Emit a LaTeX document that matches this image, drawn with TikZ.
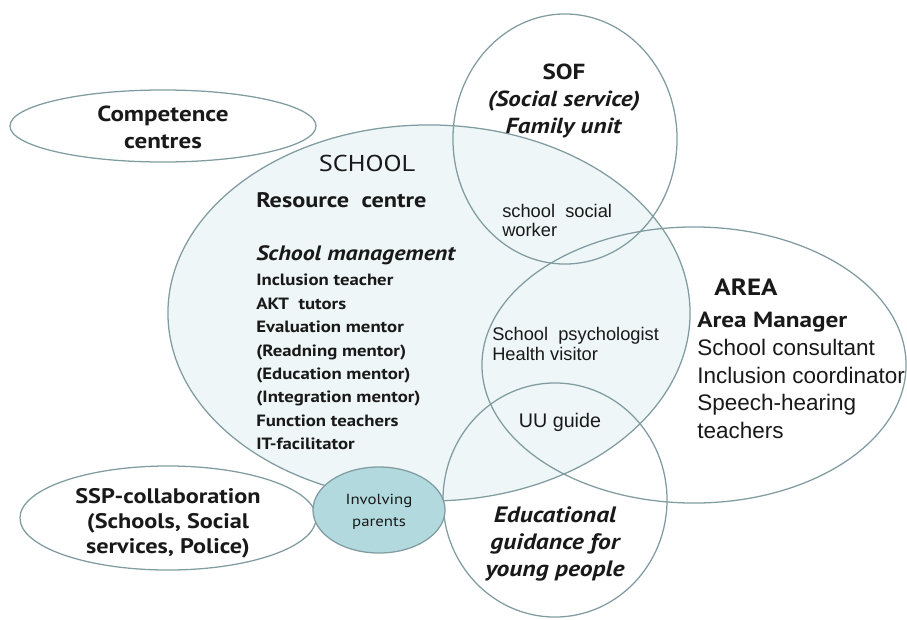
\documentclass[tikz,border=0pt]{standalone}
\usepackage{fontspec}
\setmainfont{PT Sans}[FakeStretch=1.15]
\newfontfamily\arialfont{Liberation Sans}
\usetikzlibrary{shapes.geometric,positioning}
\definecolor{ringcol}{RGB}{128,156,160}
\definecolor{schoolfill}{RGB}{238,246,248}
\definecolor{parentfill}{RGB}{178,218,222}
\definecolor{inkcol}{RGB}{25,25,25}

\begin{document}
\begin{tikzpicture}[x=0.025cm,y=-0.025cm,
  ring/.style={draw=ringcol, line width=0.9pt, ellipse, inner sep=0pt},
  lbl/.style={inner sep=0pt, text=inkcol, align=center},
  lst/.style={inner sep=0pt, text=inkcol, align=left, anchor=west}]
\useasboundingbox (0,0) rectangle (907,619);
% rings
\node[ring, fill=schoolfill, minimum width=13.05cm, minimum height=9.4cm] (school) at (429,313) {};
\node[ring, minimum width=5.6cm, minimum height=6.25cm] (sof) at (565,139) {};
\node[ring, minimum width=10.6cm, minimum height=6.9cm] (area) at (694,365) {};
\node[ring, minimum width=5.6cm, minimum height=5.85cm] (edu) at (555,500) {};
\node[ring, minimum width=7.65cm, minimum height=1.8cm] (comp) at (163,126) {};
\node[ring, minimum width=7.4cm, minimum height=2.6cm] (ssp) at (168,518) {};
\node[ring, fill=parentfill, minimum width=3.3cm, minimum height=2.15cm] (inv) at (379,510) {};

% texts
\node[lbl, font=\bfseries\fontsize{15.5}{19.2}\selectfont] (comptext) at (163,127) {Competence\\centres};
\node[lbl, font=\fontsize{16.3}{18}\selectfont] (schooltitle) at (367,163) {SCHOOL};
\node[lst, font=\bfseries\fontsize{15}{16}\selectfont] (resource) at (256,200) {Resource\ \ centre};
\node[lst, font=\bfseries\itshape\fontsize{14.8}{16}\selectfont] (mgmt) at (256,255) {School\ management};
\node[lst, font=\bfseries\fontsize{11.6}{16.6}\selectfont] (staff) at (256,362)
  {Inclusion teacher\\AKT\ \ tutors\\Evaluation mentor\\(Readning mentor)\\(Education mentor)\\(Integration mentor)\\Function teachers\\IT-facilitator};
\node[lbl, font=\bfseries\fontsize{15.5}{19.5}\selectfont] (softext) at (564,101)
  {SOF\\\textit{(Social service)}\\\textit{Family unit}};
\node[lst, font=\arialfont\fontsize{13}{13.5}\selectfont] (ssw) at (502,220) {school\ \ social\\worker};
\node[lbl, font=\bfseries\fontsize{16.7}{16}\selectfont] (areatitle) at (746,287) {AREA};
\node[lst, font=\bfseries\fontsize{15.6}{18}\selectfont] (areaman) at (697,322) {Area Manager};
\node[lst, font=\arialfont\fontsize{16}{19.7}\selectfont] (arealist) at (697,389)
  {School consultant\\Inclusion coordinator\\Speech-hearing\\teachers};
\node[lst, font=\arialfont\fontsize{13}{14}\selectfont] (psych) at (492,344) {School\ \ psychologist\\Health visitor};
\node[lbl, font=\arialfont\fontsize{14}{14}\selectfont] (uu) at (560,422) {UU guide};
\node[lbl, font=\bfseries\itshape\fontsize{15.8}{19.5}\selectfont] (edutext) at (555,544)
  {Educational\\guidance for\\young people};
\node[lbl, font=\bfseries\fontsize{15}{17.8}\selectfont] (ssptext) at (168,523)
  {SSP-collaboration\\(Schools, Social\\services, Police)};
\node[lbl, font=\fontsize{10.4}{15.6}\selectfont] (invtext) at (379,512) {Involving\\parents};
\end{tikzpicture}
\end{document}
